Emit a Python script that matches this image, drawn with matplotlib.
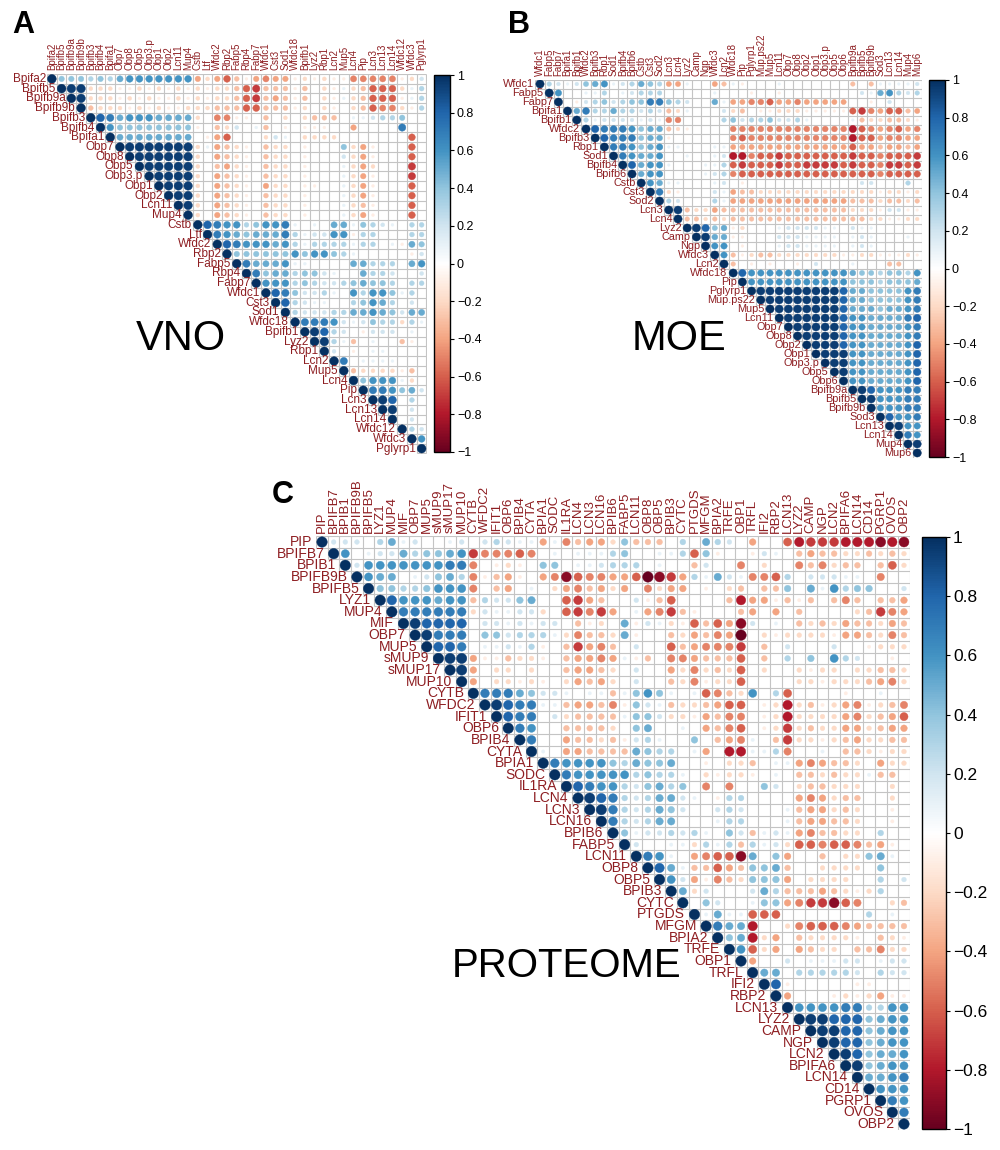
import numpy as np
import matplotlib
matplotlib.use("Agg")
import matplotlib.pyplot as plt
from matplotlib.colors import LinearSegmentedColormap, Normalize
from matplotlib.collections import EllipseCollection, LineCollection
from matplotlib.cm import ScalarMappable

plt.rcParams['font.family'] = ['Liberation Sans', 'DejaVu Sans']

# ---------------------------------------------------------------------------
# data: upper triangles of the three correlation matrices
# one string per row, starting at the diagonal.
# codes: X = 1, 1..8 = +0.1..+0.8, 9 = ~0.95, 0 = 0, a..i = -0.1..-0.9, j = -1
# ---------------------------------------------------------------------------
vno_labels = ["Bpifa2", "Bpifb5", "Bpifb9a", "Bpifb9b", "Bpifb3", "Bpifb4", "Bpifa1",
              "Obp7", "Obp8", "Obp5", "Obp3.p", "Obp1", "Obp2", "Lcn11", "Mup4",
              "Cstb", "Ltf", "Wfdc2", "Rbp2", "Fabp5", "Rbp4", "Fabp7", "Wfdc1",
              "Cst3", "Sod1", "Wfdc18", "Bpifb1", "Lyz2", "Rbp1", "Lcn2", "Mup5",
              "Lcn4", "Pip", "Lcn3", "Lcn13", "Lcn14", "Wfdc12", "Wfdc3", "Pglyrp1"]

vno_rows = [
    "X444343" "56666666" "dbdfcadedd" "ababaa" "eeeee" "ab2",
    "X99" "bbbaabababa" "babbcfgccc" "ac0ba1" "bcfff" "b13",
    "X9" "bbbababaaba" "babbcfgcdc" "ac0ba1" "bcfff" "a13",
    "X" "cbbbababaab" "bbcccffccc" "ab0ba0" "bcfee" "ba3",
    "X87" "56665555" "b0eeaa0c0b" "0bccc0" "11233" "400",
    "X6" "44444444" "a0cb201c0a" "0aaa00" "d0000" "700",
    "X" "55555555" "0adf000b21" "0bbbb0" "00000" "0f0",
    "X9999999" "b1dcba0cbb" "0a0004" "bda00" "0f0",
    "X999999" "b0dcba0cbb" "0a0002" "bda00" "0f0",
    "X99999" "b0cdba0cbb" "0a0001" "bdb00" "0g0",
    "X9999" "b0dcba0cbb" "0a0001" "bda00" "0g0",
    "X999" "b0dcba0dbb" "0aa001" "bda00" "0f0",
    "X99" "b0dcba0cbb" "0a0001" "bda00" "0f0",
    "X9" "b0dcba0cbb" "0a0001" "bca00" "0f0",
    "X" "b0dcba0cbb" "0a0001" "bda00" "0f0",
    "X876634667" "101055" "14321" "033",
    "X76545557" "312266" "a3300" "033",
    "X8766656" "313333" "13301" "a54",
    "X444444" "646643" "10000" "0a2",
    "X75556" "110000" "55333" "056",
    "X7455" "344210" "05332" "002",
    "X666" "343223" "45443" "033",
    "X87" "422310" "63664" "130",
    "X8" "321100" "34653" "020",
    "X" "322233" "55654" "255",
    "X77762" "12433" "b31",
    "X9832" "0a222" "010",
    "X931" "c0100" "ca0",
    "X20" "a0110" "000",
    "X7" "01111" "000",
    "X" "cbbbb" "ac0",
    "X4666" "1b0",
    "X776452",
    "X98030",
    "X9020",
    "X020",
    "X32",
    "X6",
    "X",
]

moe_labels = ["Wfdc1", "Fabp5", "Fabp7", "Bpifa1", "Bpifb1", "Wfdc2", "Bpifb3", "Rbp1",
              "Sod1", "Bpifb4", "Bpifb6", "Cstb", "Cst3", "Sod2", "Lcn3", "Lcn4", "Lyz2",
              "Camp", "Ngp", "Wfdc3", "Lcn2", "Wfdc18", "Pip", "Pglyrp1", "Mup.ps22",
              "Mup5", "Lcn11", "Obp7", "Obp8", "Obp2", "Obp1", "Obp3.p", "Obp5", "Obp6",
              "Bpifb9a", "Bpifb5", "Bpifb9b", "Sod3", "Lcn13", "Lcn14", "Mup4", "Mup6"]

moe_rows = [
    "X321245612" "3543dd100d" "c1a0001000" "0000c0c11112",
    "X60011301" "2333000001" "000a00a000" "000002156323",
    "X0a23423" "4477432005" "1ddeefdded" "dddd00a02000",
    "X573353" "3232cb1000" "2bc0aabbba" "aaaafgedffcd",
    "X31222" "2121ee0000" "3423342231" "00001cbbccba",
    "X8777" "6455cba000" "0eeeeeeeee" "eeeehfedefde",
    "X877" "7455a00000" "0efeeeeeee" "eeeehffdeedd",
    "X77" "6456110001" "1ddddddddd" "ddddfddcddcd",
    "X7" "6556001001" "2hheffgfff" "ffffgffefffg",
    "X" "8566100011" "3fgfffgffg" "gggfgffeggfg",
    "X566000012" "3effffffff" "fffffffeffff",
    "X65110001" "20a0000000" "000002200030",
    "X7ba0002" "1dccbbbbbb" "bbbbbbbabbab",
    "X320003" "1ddddddddd" "ddddcccbccbc",
    "X9cbbd" "cccccccccc" "ccccbbba22aa",
    "Xccbc" "bccccccccc" "ccccccbbaabb",
    "X984" "5ab0001222" "211021100000",
    "X95" "5aa0002221" "111012100010",
    "X6" "60a0001221" "111012100000",
    "X" "6cabccbbbb" "bbbaabbaaaba",
    "Xc0a0a00a0" "20001000cc00",
    "X86666666" "666654434436",
    "X6666666" "666644434445",
    "X999999" "999855444467",
    "X99999" "999855444467",
    "X9999" "999855545567",
    "X999" "999866555578",
    "X99" "999866555567",
    "X9" "999866555567",
    "X" "999866555568",
    "X99966555568",
    "X9966555568",
    "X966555568",
    "X66555568",
    "X9866677",
    "X966677",
    "X66677",
    "X8667",
    "X966",
    "X76",
    "X9",
    "X",
]

prot_labels = ["PIP", "BPIFB7", "BPIB1", "BPIFB9B", "BPIFB5", "LYZ1", "MUP4", "MIF", "OBP7",
               "MUP5", "sMUP9", "sMUP17", "MUP10", "CYTB", "WFDC2", "IFIT1", "OBP6", "BPIB4",
               "CYTA", "BPIA1", "SODC", "IL1RA", "LCN4", "LCN3", "LCN16", "BPIB6", "FABP5",
               "LCN11", "OBP8", "OBP5", "BPIB3", "CYTC", "PTGDS", "MFGM", "BPIA2", "TRFE",
               "OBP1", "TRFL", "IFI2", "RBP2", "LCN13", "LYZ2", "CAMP", "NGP", "LCN2",
               "BPIFA6", "LCN14", "CD14", "PGRP1", "OVOS", "OBP2"]

prot_rows = [
    "X222035120" "012023211d" "1ecddb4ccc" "0305320d00" "fhggghhhihi",
    "X60122534" "456geeefe0" "1011134001" "13f4a00a21" "0cdccbbcbcb",
    "X2666666" "677e0aba04" "4011233301" "00c200e0b0" "0ecebcc0cfb",
    "X655012" "453eacda0d" "eifeeddfji" "gd31521eef" "30222110e00",
    "X44334" "666e0cd010" "bdecdbd0eb" "dd0a0bc0cc" "40516344002",
    "X8666" "566c322450" "0fgdc002ac" "f0000chdda" "cac0cec0ccd",
    "X777" "777b21122b" "0fgegd01de" "gca000cd0d" "0c0000bcged",
    "X98" "8880221212" "20cab05a21" "bafcfdi201" "0cbcbdccbdc",
    "X9" "7770442333" "1beccb5a00" "cbdcedj0ba" "bbbbaddcbec",
    "X" "887011213a" "0cgdec0200" "fcdeeeg0c0" "2000200abbb",
    "X99daacbba" "0cdded1ac0" "eedcccf0c0" "304063200a0",
    "X9d0bb0b0" "0cddcb0200" "dbebcbf0b0" "0babb0bbccb",
    "Xd0bbaba" "0bdcdb0200" "cbeabbf000" "0bbabbbcdeb",
    "X777542" "21011c1464" "101fecb603" "f0000a00100",
    "X98771" "1cddcea421" "cbbcdff0ab" "hbcabdeabce",
    "X8770" "2bcccc1442" "bbadcee0ab" "hbbbbdebcdf",
    "X760" "0ccccb0450" "010dcef0ab" "gbcbbddbcdd",
    "X70" "0dccbca231" "0040cde10c" "gbbabcdbbcc",
    "X1" "0ddcccc543" "301d0hh113" "e0010ccbabb",
    "X" "7666643544" "500a0bbc01" "1dedccb0dbb",
    "X766666343" "310babba01" "0ccbcbb1cc0",
    "X87663245" "340e0e0042" "0bccbbb00b0",
    "X9873235" "5210a33000" "0dedbcc00b0",
    "X973235" "4200232000" "1cddbcb00a0",
    "X73235" "5000133000" "1cddccb00a0",
    "X4122" "3231042c12" "1deccbb0300",
    "X200" "11b313c312" "bffeffecda0",
    "X76" "10deffi504" "d00c0bb4510",
    "X8" "51ccfdc445" "c00bbbb0400",
    "X" "62daecb444" "d0bbbb00302",
    "X5b2000253" "cccdcbab300",
    "X04200144" "deggife00bc",
    "X1511fff" "00000003010",
    "X755h00" "befffedcccc",
    "X45hbd" "0cbbbba0cba",
    "X6fbd" "0dcbb0ccebb",
    "Xd00" "20111220122",
    "X55" "03333320322",
    "X8" "a00000aa000",
    "X" "d000ababdaa",
    "X6666773366",
    "X998884566",
    "X99884566",
    "X9884566",
    "X984556",
    "X94566",
    "X5567",
    "X666",
    "X76",
    "X7",
    "X",
]

cbar_ticks = [1, 0.8, 0.6, 0.4, 0.2, 0, -0.2, -0.4, -0.6, -0.8, -1]

CODE = {'X': 1.0, 'j': -1.0, '0': 0.0, '9': 0.95}
for k, ch in enumerate('12345678'):
    CODE[ch] = (k + 1) / 10
for k, ch in enumerate('abcdefghi'):
    CODE[ch] = -(k + 1) / 10


def decode(rows, labels):
    n = len(labels)
    assert len(rows) == n, (len(rows), n)
    mat = np.full((n, n), np.nan)
    for i, s in enumerate(rows):
        assert len(s) == n - i, (labels[i], len(s), n - i)
        for k, ch in enumerate(s):
            mat[i, i + k] = CODE[ch]
    return mat


# corrplot's RdBu ramp
cmap = LinearSegmentedColormap.from_list(
    'corr', ["#67001F", "#B2182B", "#D6604D", "#F4A582", "#FDDBC7", "#FFFFFF",
             "#D1E5F0", "#92C5DE", "#4393C3", "#2166AC", "#053061"], N=256)
norm = Normalize(-1, 1)
LABEL_COL = '#8E1E22'
GRID_COL = '#C4C4C4'

W, H = 1000, 1150
fig = plt.figure(figsize=(W / 100, H / 100), dpi=100)


def px_axes(l, t, r, b):
    return fig.add_axes([l / W, 1 - b / H, (r - l) / W, (b - t) / H])


def fmt_tick(v):
    if v == 0:
        return "0"
    s = "1" if abs(v) == 1 else f"{abs(v):.1f}"
    return ("\u2212" + s) if v < 0 else s


def corr_panel(mat, labels, box, cbox, row_fs, col_fs, cb_fs, row_off, col_off):
    n = len(labels)
    ax = px_axes(*box)
    ax.set_xlim(0, n)
    ax.set_ylim(n, 0)
    ax.axis('off')

    # grid of the upper triangle
    segs = []
    for k in range(n + 1):
        segs.append([(max(k - 1, 0), k), (n, k)])
        segs.append([(k, 0), (k, min(k + 1, n))])
    ax.add_collection(LineCollection(segs, colors=GRID_COL, linewidths=0.8, zorder=1))

    ii, jj = np.where(~np.isnan(mat))
    vals = mat[ii, jj]
    diam = 0.9 * np.sqrt(np.abs(vals))
    cols = cmap(norm(vals))
    circles = EllipseCollection(diam, diam, np.zeros_like(diam), units='xy',
                                offsets=np.column_stack([jj + 0.5, ii + 0.5]),
                                offset_transform=ax.transData,
                                facecolors=cols, edgecolors=cols, linewidths=0.3,
                                zorder=2)
    ax.add_collection(circles)

    for i, lab in enumerate(labels):
        ax.text(i - row_off, i + 0.5, lab, ha='right', va='center',
                fontsize=row_fs, color=LABEL_COL, clip_on=False)
        ax.text(i + 0.5, -col_off, lab, ha='center', va='bottom', rotation=90,
                fontsize=col_fs, color=LABEL_COL, clip_on=False)

    cax = px_axes(*cbox)
    cb = fig.colorbar(ScalarMappable(norm=norm, cmap=cmap), cax=cax, ticks=cbar_ticks)
    cb.ax.set_yticklabels([fmt_tick(v) for v in cbar_ticks])
    cb.ax.tick_params(labelsize=cb_fs, length=3, width=0.8, pad=2)
    cb.outline.set_linewidth(1.0)
    return ax


vno = decode(vno_rows, vno_labels)
moe = decode(moe_rows, moe_labels)
prot = decode(prot_rows, prot_labels)

corr_panel(vno, vno_labels, (47, 74, 426.5, 453.5), (434, 75, 450, 452),
           row_fs=8.5, col_fs=7, cb_fs=9, row_off=0.12, col_off=0.45)
corr_panel(moe, moe_labels, (535.4, 79.5, 921.8, 457.5), (929, 80, 945, 457),
           row_fs=7.8, col_fs=7, cb_fs=9, row_off=0.12, col_off=0.35)
corr_panel(prot, prot_labels, (316.2, 536.2, 909.8, 1129.8), (922, 537, 946, 1129),
           row_fs=10, col_fs=9.5, cb_fs=12.5, row_off=0.3, col_off=0.25)

# panel letters and titles
for letter, x, y in [("A", 12, 33), ("B", 508, 33), ("C", 272, 503)]:
    fig.text(x / W, 1 - y / H, letter, fontsize=22, fontweight='bold', va='baseline')
for title, x, y, fs in [("VNO", 136, 350, 30), ("MOE", 632, 350, 30),
                        ("PROTEOME", 452, 977, 29)]:
    fig.text(x / W, 1 - y / H, title, fontsize=fs, va='baseline')

fig.savefig('out.png', dpi=100)
